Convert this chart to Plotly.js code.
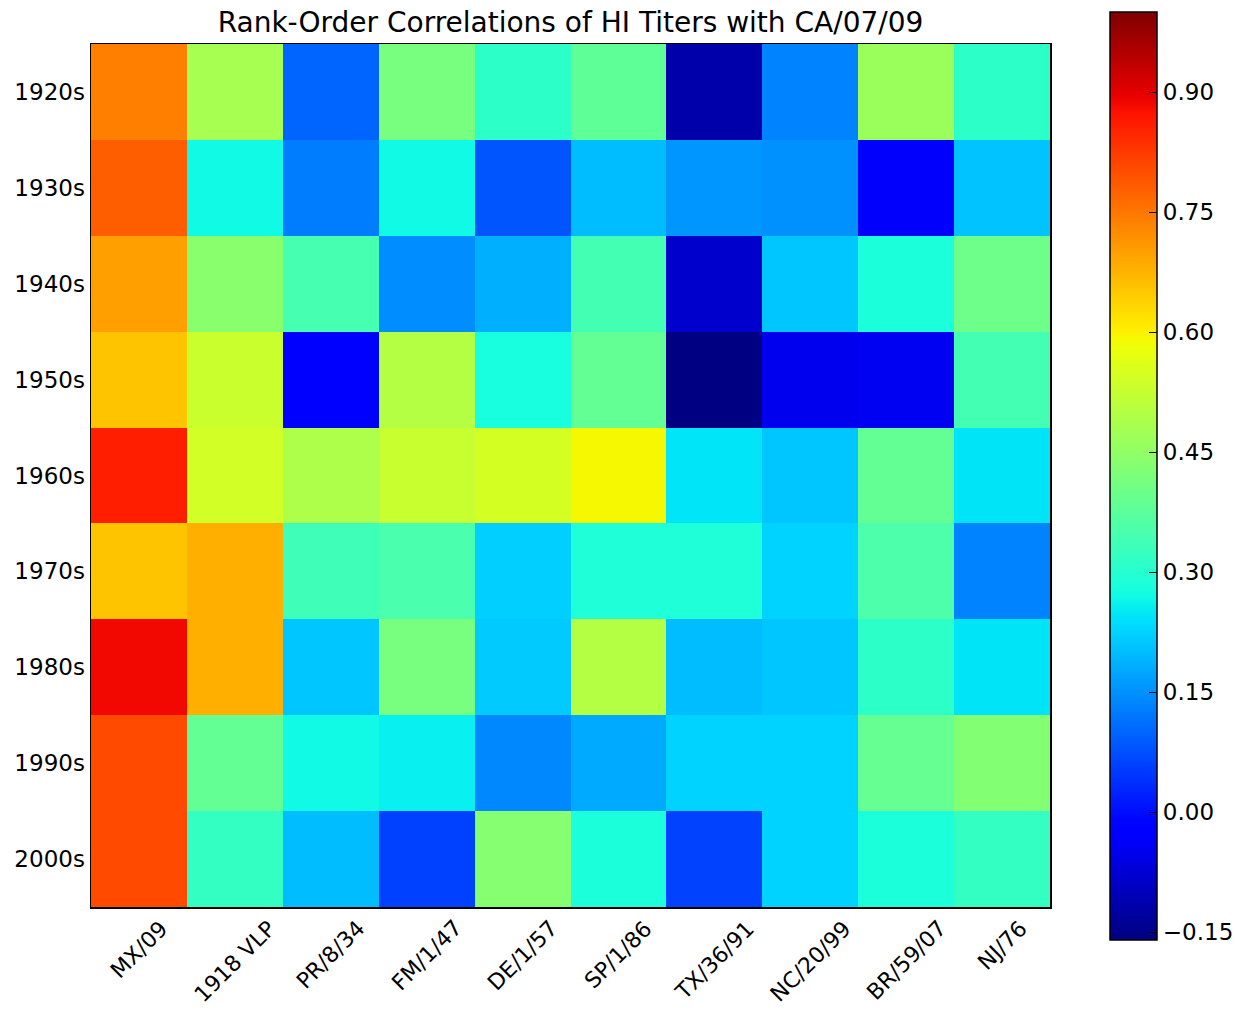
<!DOCTYPE html>
<html>
<head>
<meta charset="utf-8">
<script src="https://cdn.plot.ly/plotly-3.0.1.min.js"></script>
<style>html,body{margin:0;padding:0;background:#fff;}#chart{width:1236px;height:1010px;}</style>
</head>
<body>
<div id="chart"></div>
<script>
const strains = ["MX/09","1918 VLP","PR/8/34","FM/1/47","DE/1/57","SP/1/86","TX/36/91","NC/20/99","BR/59/07","NJ/76"];
const decades = ["1920s","1930s","1940s","1950s","1960s","1970s","1980s","1990s","2000s"];

const r1920s = [0.74, 0.48, 0.10, 0.415, 0.31, 0.38, -0.117, 0.133, 0.465, 0.31];
const r1930s = [0.78, 0.27, 0.127, 0.27, 0.081, 0.20, 0.156, 0.15, -0.035, 0.207];
const r1940s = [0.70, 0.44, 0.345, 0.145, 0.185, 0.34, -0.083, 0.21, 0.285, 0.40];
const r1950s = [0.655, 0.53, -0.025, 0.50, 0.28, 0.385, -0.157, -0.048, -0.045, 0.34];
const r1960s = [0.857, 0.54, 0.49, 0.528, 0.545, 0.592, 0.246, 0.21, 0.385, 0.245];
const r1970s = [0.655, 0.68, 0.335, 0.35, 0.22, 0.29, 0.29, 0.225, 0.355, 0.133];
const r1980s = [0.885, 0.68, 0.21, 0.415, 0.215, 0.50, 0.20, 0.21, 0.31, 0.245];
const r1990s = [0.805, 0.385, 0.27, 0.258, 0.14, 0.178, 0.225, 0.225, 0.39, 0.43];
const r2000s = [0.805, 0.32, 0.20, 0.059, 0.435, 0.285, 0.06, 0.225, 0.285, 0.32];

const zRows = [r1920s, r1930s, r1940s, r1950s, r1960s, r1970s, r1980s, r1990s, r2000s];
const cbTicks = [-0.15, 0.00, 0.15, 0.30, 0.45, 0.60, 0.75, 0.90];
const cbTickText = ["\u22120.15", "0.00", "0.15", "0.30", "0.45", "0.60", "0.75", "0.90"];

// matplotlib "jet" colormap as a Plotly colorscale
function seg(pts, t) {
  for (let i = 1; i < pts.length; i++) {
    if (t <= pts[i][0]) {
      const [x0, y0] = pts[i-1], [x1, y1] = pts[i];
      return y0 + (y1 - y0) * (t - x0) / (x1 - x0);
    }
  }
  return pts[pts.length-1][1];
}
const jR = [[0,0],[0.35,0],[0.66,1],[0.89,1],[1,0.5]];
const jG = [[0,0],[0.125,0],[0.375,1],[0.64,1],[0.91,0],[1,0]];
const jB = [[0,0.5],[0.11,1],[0.34,1],[0.65,0],[1,0]];
const jet = [];
for (let i = 0; i <= 100; i++) {
  const t = i / 100;
  jet.push([t, `rgb(${Math.round(255*seg(jR,t))},${Math.round(255*seg(jG,t))},${Math.round(255*seg(jB,t))})`]);
}

const trace = {
  type: "heatmap",
  x: strains,
  y: decades,
  z: zRows,
  zmin: -0.16,
  zmax: 1.0,
  colorscale: jet,
  xgap: 0, ygap: 0,
  colorbar: {
    x: 1.0626, xanchor: "left",
    y: 0.4994, yanchor: "middle",
    len: 1.075, lenmode: "fraction",
    thickness: 47, thicknessmode: "pixels",
    outlinewidth: 1.5, outlinecolor: "#000",
    tickmode: "array", tickvals: cbTicks, ticktext: cbTickText,
    ticks: "inside", ticklen: 8, tickcolor: "#000",
    tickfont: {family: "DejaVu Sans", size: 23, color: "#000"},
    xpad: 0, ypad: 0
  }
};

// x tick labels: rotated 45°, centred on each category (matplotlib style)
const xLabels = strains.map(s => ({
  x: s, xref: "x", y: 0, yref: "paper",
  text: s, textangle: -45, showarrow: false,
  xanchor: "center", yanchor: "top", yshift: -6,
  font: {family: "DejaVu Sans", size: 22, color: "#000"}
}));

const layout = {
  width: 1236, height: 1010,
  margin: {l: 91, r: 186, t: 44, b: 103, autoexpand: false},
  paper_bgcolor: "#fff", plot_bgcolor: "#fff",
  title: {
    text: "Rank-Order Correlations of HI Titers with CA/07/09",
    font: {family: "DejaVu Sans", size: 28, color: "#000"},
    x: 0.5, xanchor: "center", xref: "paper",
    y: 0.978, yanchor: "middle", yref: "container"
  },
  xaxis: {
    showticklabels: false, showline: true, mirror: true, linecolor: "#000", linewidth: 1.5,
    ticks: "", showgrid: false, zeroline: false
  },
  yaxis: {
    autorange: "reversed", showline: true, mirror: true, linecolor: "#000", linewidth: 1.5,
    ticks: "", showgrid: false, zeroline: false,
    tickfont: {family: "DejaVu Sans", size: 23, color: "#000"}
  },
  annotations: xLabels
};

Plotly.newPlot("chart", [trace], layout, {displayModeBar: false, staticPlot: true});
</script>
</body>
</html>
